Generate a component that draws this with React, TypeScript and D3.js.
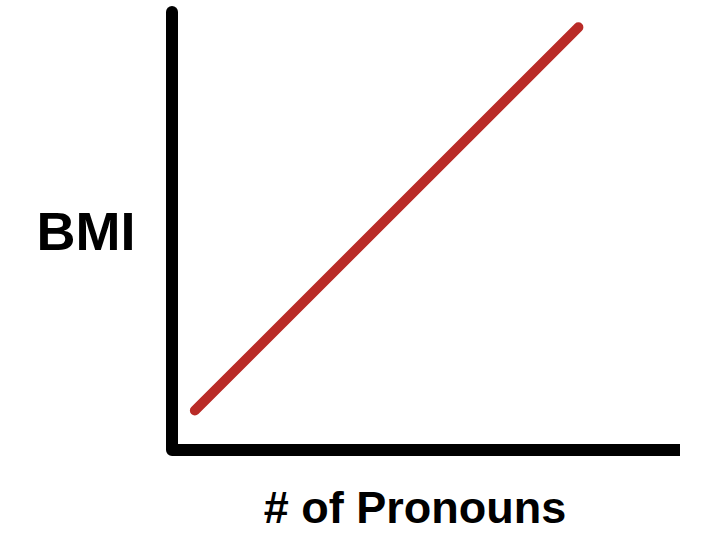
import React from "react";
import * as d3 from "d3";

const pronouns = [0.45, 8.0];
const bmi = [0.9, 9.65];
const xLabel = "# of Pronouns";
const yLabel = "BMI";

export default function App() {
  const W = 720, H = 551;
  const x = d3.scaleLinear().domain([0, 10]).range([172, 680]);
  const y = d3.scaleLinear().domain([0, 10]).range([450, 12]);
  const pts = pronouns.map((p, i) => [x(p), y(bmi[i])] as [number, number]);
  const line = d3.line()(pts) || "";
  const axis = d3.line()([
    [x(0), y(10)],
    [x(0), y(0)],
    [x(10), y(0)],
  ]) || "";
  return (
    <svg width={W} height={H} style={{ position: "absolute", left: 0, top: 0, background: "#fff" }}>
      <rect width={W} height={H} fill="#fff" />
      <path d={axis} fill="none" stroke="#000" strokeWidth={12} strokeLinejoin="round" strokeLinecap="butt" />
      <circle cx={x(0)} cy={y(10)} r={6} fill="#000" />
      <path d={line} fill="none" stroke="#b92b27" strokeWidth={10} strokeLinecap="round" />
      <text x={86} y={250} textAnchor="middle" fontFamily="Liberation Sans, Arial, sans-serif" fontWeight="bold" fontSize={54} fill="#000">{yLabel}</text>
      <text x={415} y={523} textAnchor="middle" fontFamily="Liberation Sans, Arial, sans-serif" fontWeight="bold" fontSize={45} fill="#000">{xLabel}</text>
    </svg>
  );
}
